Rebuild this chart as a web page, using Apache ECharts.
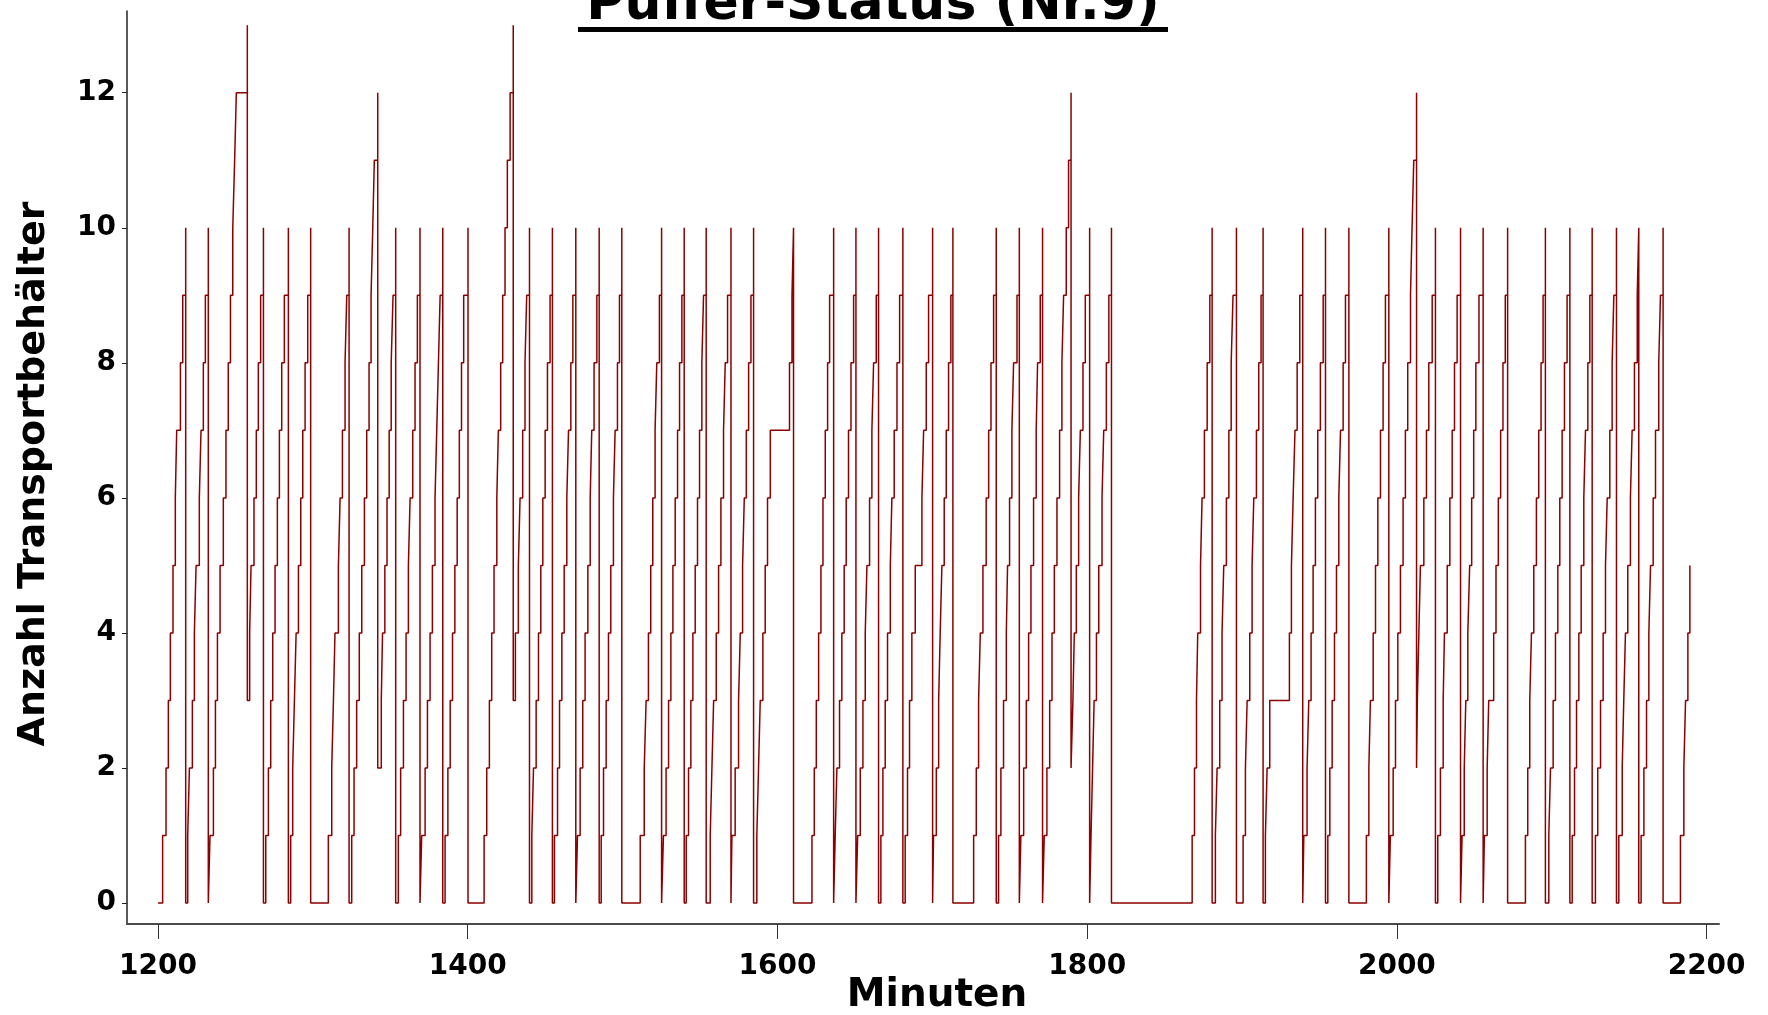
<!DOCTYPE html>
<html>
<head>
<meta charset="utf-8">
<script src="https://cdn.jsdelivr.net/npm/echarts@6/dist/echarts.min.js"></script>
<style>
  html, body { margin: 0; padding: 0; background: #fff; }
  #chart { width: 1768px; height: 1015px; }
</style>
</head>
<body>
<div id="chart"></div>
<script>
// Puffer-Status (Nr.9): Füllstand des Puffers über die Zeit
const startTime = 1200
const xTicks = [1200, 1400, 1600, 1800, 2000, 2200]
const yTicks = [0, 2, 4, 6, 8, 10, 12]

// Niveau, von dem aus jede Füllrampe startet
const rampBase = [
  0, 0, 0, 3, 0, 0, 0, 0, 2, 0, 0, 0, 0, 3, 0, 0, 0, 0, 0, 0, 0,
  0, 0, 0, 0, 0, 0, 0, 0, 0, 0, 0, 0, 0, 2, 0, 0, 0, 0, 0, 0, 0,
  0, 0, 2, 0, 0, 0, 0, 0, 0, 0, 0, 0, 0
]

// Zeitpunkte (Minuten), an denen jeweils ein Behälter dazukommt;
// nach dem letzten Wert fällt der Puffer auf das Startniveau der nächsten Rampe
const rampTimes = [
  [1203.0, 1205.2, 1206.7, 1208.0, 1209.7, 1211.2, 1212.1, 1214.5, 1216.0, 1217.9],
  [1219.2, 1220.3, 1222.2, 1223.5, 1224.6, 1226.7, 1227.8, 1229.3, 1230.6, 1232.5],
  [1233.6, 1235.8, 1237.1, 1238.4, 1240.1, 1242.2, 1243.9, 1245.4, 1246.8, 1248.3, 1249.5, 1250.6, 1257.7],
  [1259.2, 1260.1, 1262.0, 1263.5, 1264.8, 1266.3, 1268.1],
  [1269.6, 1271.3, 1272.8, 1274.1, 1275.6, 1277.1, 1278.4, 1279.9, 1281.6, 1284.2],
  [1285.7, 1287.0, 1288.1, 1289.2, 1290.7, 1292.2, 1293.5, 1295.0, 1296.7, 1298.6],
  [1310.0, 1312.2, 1313.3, 1314.3, 1316.5, 1317.6, 1319.1, 1320.8, 1321.9, 1323.4],
  [1325.1, 1326.6, 1328.3, 1330.0, 1331.6, 1333.3, 1334.8, 1336.3, 1337.6, 1338.7, 1339.7, 1341.9],
  [1344.2, 1345.0, 1346.5, 1347.9, 1349.3, 1350.6, 1351.8, 1353.5],
  [1355.2, 1356.7, 1358.5, 1360.2, 1361.7, 1362.8, 1364.5, 1366.0, 1367.5, 1369.2],
  [1370.3, 1372.5, 1374.0, 1375.7, 1377.2, 1378.9, 1380.0, 1381.1, 1382.2, 1383.9],
  [1385.4, 1387.2, 1388.7, 1390.2, 1391.7, 1393.2, 1394.6, 1396.0, 1397.4, 1400.2],
  [1410.6, 1412.3, 1414.0, 1415.5, 1417.0, 1418.8, 1419.8, 1421.3, 1422.6, 1424.1, 1425.6, 1427.4, 1429.4],
  [1430.8, 1432.7, 1433.8, 1435.5, 1437.0, 1438.1, 1439.9],
  [1441.4, 1442.5, 1444.2, 1445.7, 1447.2, 1448.5, 1450.0, 1451.5, 1453.2, 1454.7],
  [1456.0, 1458.0, 1459.3, 1460.8, 1462.3, 1464.0, 1465.1, 1466.6, 1467.9, 1469.8],
  [1470.9, 1472.6, 1474.3, 1475.8, 1477.6, 1479.1, 1480.1, 1481.6, 1483.4, 1484.9],
  [1486.2, 1487.7, 1489.4, 1490.9, 1492.4, 1494.1, 1495.2, 1496.7, 1498.0, 1499.5],
  [1511.4, 1514.0, 1515.2, 1516.7, 1518.2, 1519.5, 1521.0, 1522.1, 1523.8, 1525.2],
  [1526.4, 1528.1, 1529.7, 1531.2, 1532.5, 1534.0, 1535.5, 1536.8, 1538.3, 1539.8],
  [1541.1, 1542.6, 1544.1, 1545.4, 1546.9, 1548.4, 1549.7, 1551.2, 1552.3, 1554.0],
  [1556.6, 1557.7, 1558.8, 1560.5, 1562.0, 1563.5, 1565.2, 1566.3, 1567.8, 1570.0],
  [1570.6, 1572.7, 1574.9, 1576.0, 1577.5, 1578.6, 1579.9, 1581.4, 1582.9, 1584.6],
  [1586.7, 1587.8, 1588.9, 1590.6, 1592.1, 1593.6, 1595.4, 1607.8, 1609.4, 1610.4],
  [1622.3, 1623.8, 1625.1, 1626.6, 1628.1, 1629.4, 1630.9, 1632.4, 1633.7, 1636.3],
  [1637.3, 1638.4, 1640.1, 1641.6, 1643.1, 1644.4, 1645.9, 1647.5, 1649.2, 1650.7],
  [1651.8, 1653.5, 1655.2, 1656.7, 1657.8, 1659.5, 1661.0, 1662.1, 1663.8, 1665.3],
  [1666.8, 1668.1, 1669.6, 1671.1, 1672.9, 1673.9, 1675.4, 1677.2, 1678.9, 1681.0],
  [1682.5, 1684.0, 1685.3, 1686.8, 1689.0, 1693.3, 1694.4, 1696.1, 1697.6, 1700.2],
  [1700.8, 1702.6, 1704.1, 1705.1, 1706.2, 1707.7, 1709.0, 1710.5, 1712.0, 1713.3],
  [1726.7, 1728.4, 1729.9, 1731.0, 1732.7, 1734.8, 1736.4, 1737.9, 1739.6, 1741.3],
  [1742.8, 1744.3, 1746.0, 1747.8, 1748.6, 1749.9, 1751.4, 1752.5, 1754.7, 1756.2],
  [1757.2, 1759.0, 1760.7, 1762.2, 1763.7, 1765.4, 1767.1, 1768.0, 1769.7, 1771.2],
  [1772.3, 1774.0, 1775.8, 1777.3, 1778.8, 1780.5, 1782.2, 1783.7, 1784.8, 1786.5, 1788.0, 1789.6],
  [1790.8, 1791.7, 1793.0, 1794.5, 1795.6, 1797.3, 1798.8, 1801.6],
  [1802.5, 1803.5, 1804.5, 1806.0, 1807.5, 1809.6, 1810.7, 1812.4, 1814.0, 1815.7],
  [1867.8, 1869.3, 1870.6, 1871.4, 1873.2, 1874.2, 1875.7, 1877.5, 1879.2, 1880.7],
  [1882.8, 1883.9, 1885.6, 1887.1, 1888.2, 1889.9, 1891.5, 1893.0, 1894.2, 1896.4],
  [1900.7, 1902.2, 1903.3, 1905.0, 1906.5, 1907.6, 1909.3, 1910.8, 1912.3, 1913.6],
  [1915.1, 1916.2, 1917.9, 1930.6, 1931.9, 1933.0, 1934.2, 1935.6, 1937.3, 1939.2],
  [1939.9, 1942.0, 1943.1, 1944.6, 1945.9, 1947.4, 1948.9, 1950.6, 1952.4, 1953.9],
  [1955.4, 1956.7, 1958.2, 1959.7, 1961.0, 1962.5, 1963.6, 1965.3, 1966.8, 1969.0],
  [1980.3, 1981.9, 1982.9, 1984.7, 1986.2, 1987.7, 1989.4, 1991.1, 1992.6, 1994.8],
  [1995.8, 1997.6, 1999.1, 2000.6, 2002.3, 2004.0, 2005.5, 2007.0, 2008.8, 2009.8, 2010.9, 2012.7],
  [2013.2, 2014.2, 2015.2, 2017.4, 2019.1, 2020.6, 2022.8, 2024.9],
  [2026.4, 2028.1, 2029.9, 2030.7, 2032.5, 2034.2, 2035.7, 2037.2, 2038.9, 2041.1],
  [2042.1, 2043.5, 2044.5, 2045.8, 2047.0, 2048.3, 2049.6, 2051.0, 2053.0, 2055.7],
  [2056.5, 2058.3, 2059.3, 2062.5, 2064.0, 2065.5, 2067.0, 2068.5, 2070.0, 2071.5],
  [2083.0, 2084.5, 2085.8, 2086.9, 2088.4, 2090.1, 2091.6, 2093.1, 2094.4, 2095.9],
  [2098.1, 2099.2, 2100.9, 2102.4, 2103.9, 2105.2, 2106.7, 2108.2, 2109.9, 2111.7],
  [2113.2, 2114.7, 2116.0, 2117.5, 2119.0, 2120.7, 2121.8, 2123.3, 2124.6, 2126.1],
  [2128.2, 2129.7, 2131.5, 2133.2, 2134.7, 2135.8, 2137.5, 2139.0, 2140.1, 2141.8],
  [2143.3, 2145.5, 2146.5, 2147.6, 2149.1, 2150.8, 2151.9, 2153.4, 2155.2, 2156.2],
  [2157.7, 2159.5, 2161.2, 2162.7, 2163.8, 2165.5, 2167.0, 2169.1, 2170.2, 2171.9],
  [2183.1, 2185.3, 2186.4, 2187.9, 2189.2]
]

// Stufenpunkte aus den Rampen zusammensetzen
let points = [[startTime, 0]]
for (let i = 0; i < rampTimes.length; i++) {
  let times = rampTimes[i]
  for (let j = 0; j < times.length; j++) {
    points.push([times[j], rampBase[i] + j + 1])
  }
  if (i + 1 < rampTimes.length) {
    points.push([times[times.length - 1], rampBase[i + 1]])
  }
}

const font = 'DejaVu Sans'
let chart = echarts.init(document.getElementById('chart'), null, { renderer: 'canvas' })

let option = {
  animation: false,
  backgroundColor: '#fff',
  grid: { left: 127, right: 49, top: 11, bottom: 91 },
  xAxis: {
    type: 'value',
    min: 1180,
    max: 2208,
    axisLine: { onZero: false, lineStyle: { color: '#4a4a4a', width: 2 } },
    axisTick: { customValues: xTicks, length: 15, lineStyle: { color: '#333', width: 1 } },
    axisLabel: {
      customValues: xTicks,
      formatter: v => String(v),
      margin: 29,
      color: '#000',
      fontFamily: font,
      fontWeight: 'bold',
      fontSize: 28
    },
    splitLine: { show: false }
  },
  yAxis: {
    type: 'value',
    min: -0.31,
    max: 13.21,
    axisLine: { show: true, onZero: false, lineStyle: { color: '#222', width: 1.5 } },
    axisTick: { show: true, customValues: yTicks, length: 5, lineStyle: { color: '#222' } },
    axisLabel: {
      customValues: yTicks,
      formatter: v => String(v),
      margin: 11,
      color: '#000',
      fontFamily: font,
      fontWeight: 'bold',
      fontSize: 28
    },
    splitLine: { show: false }
  },
  graphic: [
    {
      type: 'text',
      x: 873, y: 5,
      style: {
        text: 'Puffer-Status (Nr.9)',
        fill: '#000',
        font: 'bold 52px "DejaVu Sans"',
        textAlign: 'center',
        textVerticalAlign: 'middle'
      }
    },
    {
      type: 'rect',
      shape: { x: 578, y: 27, width: 590, height: 5 },
      style: { fill: '#000' }
    },
    {
      type: 'text',
      x: 34, y: 474,
      rotation: Math.PI / 2,
      style: {
        text: 'Anzahl Transportbehälter',
        fill: '#000',
        font: 'bold 38px "DejaVu Sans"',
        textAlign: 'center',
        textVerticalAlign: 'middle'
      }
    },
    {
      type: 'text',
      x: 937, y: 996,
      style: {
        text: 'Minuten',
        fill: '#000',
        font: 'bold 39px "DejaVu Sans"',
        textAlign: 'center',
        textVerticalAlign: 'middle'
      }
    }
  ],
  series: [
    {
      type: 'line',
      step: 'end',
      showSymbol: false,
      data: points,
      lineStyle: { color: '#8b0000', width: 1.5 },
      itemStyle: { color: '#8b0000' }
    }
  ]
}

chart.setOption(option)
</script>
</body>
</html>
